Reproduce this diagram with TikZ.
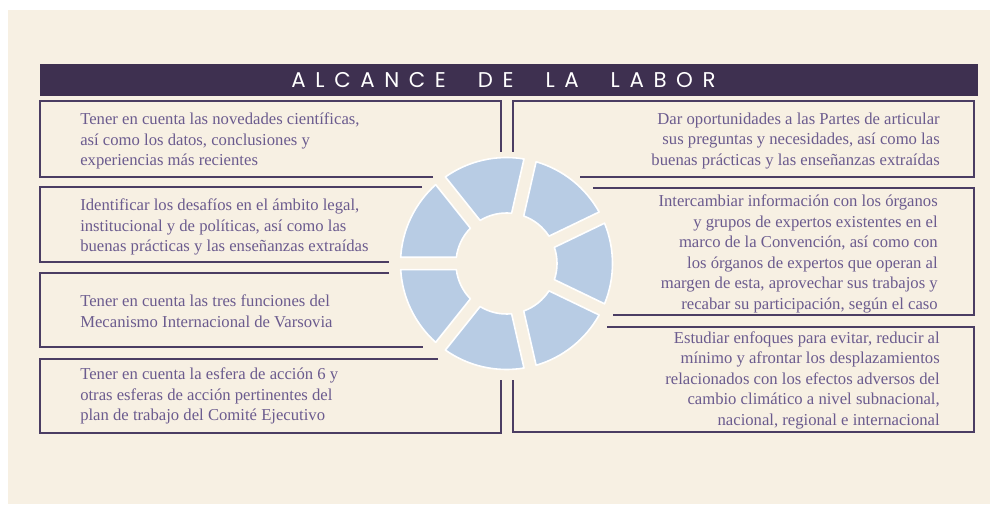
\documentclass[tikz,border=0pt]{standalone}
\usepackage{fontspec}
\setmainfont{Liberation Serif}
\newfontfamily\titlefont[LetterSpace=45]{Poppins}
\usetikzlibrary{positioning}
\definecolor{cream}{HTML}{F7F0E3}
\definecolor{titlebar}{HTML}{3E3050}
\definecolor{frame}{HTML}{4B3D63}
\definecolor{words}{HTML}{6B5B8E}
\definecolor{ringblue}{HTML}{B8CCE4}
\def\gapd{6.2}  % half width of a gap between two segments
\def\ro{106}    % outer radius of the ring
\def\ri{50.5}   % inner radius of the ring

\begin{document}
\begin{tikzpicture}[x=0.75pt,y=-0.75pt,% pixel coordinates, y going down
      every node/.style={inner sep=0pt},
      lefttext/.style={anchor=west,align=left,text=words,
        font=\fontsize{12.5}{15.4}\selectfont},
      righttext/.style={anchor=east,align=right,text=words,
        font=\fontsize{12.5}{15.4}\selectfont},
      boxline/.style={draw=frame,line width=1.1pt},
      seg/.style={fill=ringblue,draw=white,line width=1.2pt,line join=round}
    ]
    \useasboundingbox (0,0) rectangle (992,505);
    \fill[cream] (8,10) rectangle (990,504);

    % title bar
    \fill[titlebar] (40,64) rectangle (978,96);
    \node[text=white,font=\titlefont\fontsize{16}{16}\selectfont](title) at (503.5,80)
      {ALCANCE\hspace{1.5em}DE\hspace{1.5em}LA\hspace{1.5em}LABOR};

    % frames on the left
    \draw[boxline] (433,177) -- (40,177) -- (40,101) -- (501,101) -- (501,152);
    \draw[boxline] (422,187) -- (40,187) -- (40,262) -- (389,262);
    \draw[boxline] (389,273) -- (40,273) -- (40,347) -- (423,347);
    \draw[boxline] (438,359) -- (40,359) -- (40,433) -- (501,433) -- (501,380);
    % frames on the right
    \draw[boxline] (513,152) -- (513,101) -- (974,101) -- (974,177) -- (580,177);
    \draw[boxline] (593,188) -- (974,188) -- (974,315) -- (613,315);
    \draw[boxline] (607,327) -- (974,327) -- (974,432) -- (513,432) -- (513,380);

    % texts
    \node[lefttext](L1) at (80,141){Tener en cuenta las novedades científicas,\\
      así como los datos, conclusiones y\\ experiencias más recientes};
    \node[lefttext](L2) at (80,227){Identificar los desafíos en el ámbito legal,\\
      institucional y de políticas, así como las\\
      buenas prácticas y las enseñanzas extraídas};
    \node[lefttext](L3) at (80,311){Tener en cuenta las tres funciones del\\
      Mecanismo Internacional de Varsovia};
    \node[lefttext](L4) at (80,396){Tener en cuenta la esfera de acción 6 y\\
      otras esferas de acción pertinentes del\\
      plan de trabajo del Comité Ejecutivo};
    \node[righttext](R1) at (940,141){Dar oportunidades a las Partes de articular\\
      sus preguntas y necesidades, así como las\\
      buenas prácticas y las enseñanzas extraídas};
    \node[righttext](R2) at (938,254){Intercambiar información con los órganos\\
      y grupos de expertos existentes en el\\
      marco de la Convención, así como con\\
      los órganos de expertos que operan al\\
      margen de esta, aprovechar sus trabajos y\\
      recabar su participación, según el caso};
    \node[righttext](R3) at (940,380){Estudiar enfoques para evitar, reducir al\\
      mínimo y afrontar los desplazamientos\\
      relacionados con los efectos adversos del\\
      cambio climático a nivel subnacional,\\
      nacional, regional e internacional};

    % ring of seven segments
    \begin{scope}[shift={(506.5,263.5)},y=0.75pt]
      \foreach \k in {0,...,6}{
        \pgfmathsetmacro\ta{180+\k*360/7}
        \pgfmathsetmacro\tb{\ta+360/7}
        \pgfmathsetmacro\ao{asin(\gapd/\ro)}
        \pgfmathsetmacro\ai{asin(\gapd/\ri)}
        \draw[seg] (\ta+\ao:\ro) arc[start angle=\ta+\ao,end angle=\tb-\ao,radius=\ro]
          -- (\tb-\ai:\ri) arc[start angle=\tb-\ai,end angle=\ta+\ai,radius=\ri] -- cycle;
      }
    \end{scope}
\end{tikzpicture}
\end{document}
